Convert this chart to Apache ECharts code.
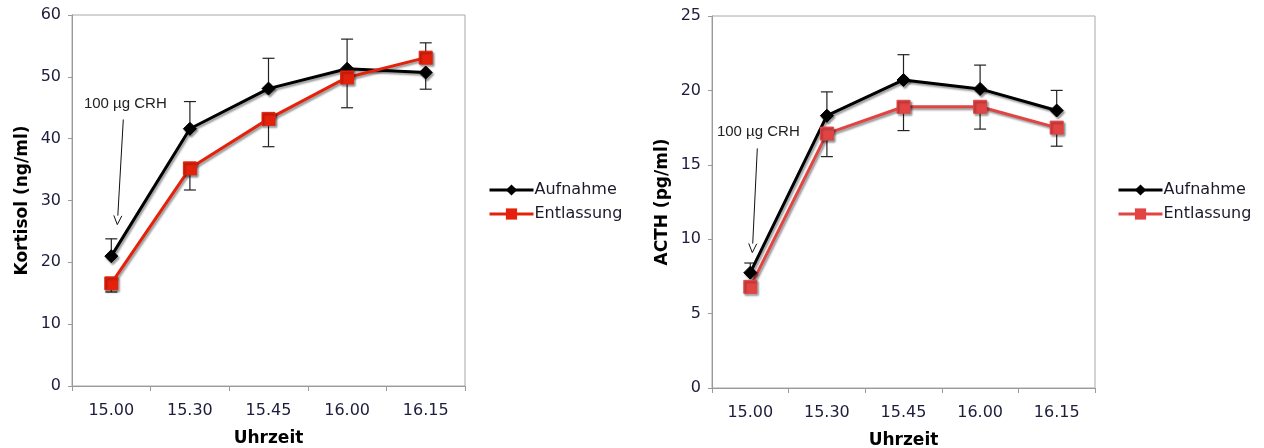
<!DOCTYPE html>
<html>
<head>
<meta charset="utf-8">
<script src="https://cdn.jsdelivr.net/npm/echarts@6/dist/echarts.min.js"></script>
<style>html,body{margin:0;padding:0;background:#fff}#c{width:1264px;height:448px}</style>
</head>
<body>
<div id="c"></div>
<script>
// ---- data ----
const categories = ['15.00', '15.30', '15.45', '16.00', '16.15'];
const seriesNames = ['Aufnahme', 'Entlassung'];

const kortisolAufnahme = [21.0, 41.6, 48.1, 51.3, 50.7];
const kortisolAufnahmeErrUp = [2.8, 4.4, 4.9, 4.8, 0];
const kortisolAufnahmeErrDown = [0, 0, 0, 0, 2.7];
const kortisolEntlassung = [16.6, 35.2, 43.2, 49.9, 53.1];
const kortisolEntlassungErrUp = [0, 0, 0, 0, 2.4];
const kortisolEntlassungErrDown = [1.4, 3.5, 4.5, 4.9, 0];

const acthAufnahme = [7.75, 18.3, 20.7, 20.1, 18.65];
const acthAufnahmeErrUp = [0.65, 1.6, 1.7, 1.6, 1.35];
const acthAufnahmeErrDown = [0, 0, 0, 0, 0];
const acthEntlassung = [6.8, 17.1, 18.9, 18.9, 17.5];
const acthEntlassungErrUp = [0, 0, 0, 0, 0];
const acthEntlassungErrDown = [0, 1.55, 1.6, 1.5, 1.25];

const kortisolTicks = [0, 10, 20, 30, 40, 50, 60];
const acthTicks = [0, 5, 10, 15, 20, 25];
const annotationText = '100 µg CRH';

// ---- styling ----
const FONT = 'DejaVu Sans';
const TICK_COLOR = '#1c1c3c';
const BLACK = '#000000';
const RED_LEFT = '#e4220c';
const RED_RIGHT = '#e24444';

function errData(vals, up, down) {
  return vals.map((v, i) => [i, v - down[i], v + up[i]]);
}

function errSeries(gridIdx, vals, up, down) {
  return {
    type: 'custom',
    xAxisIndex: gridIdx, yAxisIndex: gridIdx,
    data: errData(vals, up, down),
    z: 1,
    silent: true,
    renderItem: function (params, api) {
      const lo = api.value(1), hi = api.value(2);
      if (hi - lo < 1e-9) return null;
      const p1 = api.coord([api.value(0), lo]);
      const p2 = api.coord([api.value(0), hi]);
      const w = 6;
      const st = { stroke: '#222', lineWidth: 1.2 };
      return {
        type: 'group',
        children: [
          { type: 'line', shape: { x1: p1[0], y1: p1[1], x2: p2[0], y2: p2[1] }, style: st },
          { type: 'line', shape: { x1: p1[0] - w, y1: p1[1], x2: p1[0] + w, y2: p1[1] }, style: st },
          { type: 'line', shape: { x1: p2[0] - w, y1: p2[1], x2: p2[0] + w, y2: p2[1] }, style: st }
        ]
      };
    }
  };
}

function lineSeries(gridIdx, name, vals, color, symbol, size) {
  return {
    type: 'line', name: name,
    xAxisIndex: gridIdx, yAxisIndex: gridIdx,
    data: vals,
    symbol: symbol, symbolSize: size,
    z: 3,
    lineStyle: { color: color, width: 3, shadowColor: 'rgba(0,0,0,0.4)', shadowBlur: 2, shadowOffsetX: 1.5, shadowOffsetY: 2 },
    itemStyle: { color: color, borderColor: color, shadowColor: 'rgba(0,0,0,0.4)', shadowBlur: 2, shadowOffsetX: 1.5, shadowOffsetY: 2 },
    emphasis: { disabled: true }
  };
}

function xAxis(gridIdx) {
  return {
    type: 'category', gridIndex: gridIdx, data: categories,
    boundaryGap: true,
    name: 'Uhrzeit', nameLocation: 'middle', nameGap: 44,
    nameTextStyle: { fontFamily: FONT, fontWeight: 'bold', fontSize: 17, color: '#000' },
    axisLine: { lineStyle: { color: '#9a9a9a', width: 1 } },
    axisTick: { show: true, alignWithLabel: false, length: 5, lineStyle: { color: '#9a9a9a' } },
    axisLabel: { fontFamily: FONT, fontSize: 16, color: TICK_COLOR, margin: 17 },
    splitLine: { show: false }
  };
}

function yAxis(gridIdx, name, ticks, gap) {
  return {
    type: 'value', gridIndex: gridIdx,
    min: ticks[0], max: ticks[ticks.length - 1], interval: ticks[1] - ticks[0],
    name: name, nameLocation: 'middle', nameGap: gap, nameRotate: 90,
    nameTextStyle: { fontFamily: FONT, fontWeight: 'bold', fontSize: 17, color: '#000' },
    axisLine: { show: true, lineStyle: { color: '#9a9a9a', width: 1 } },
    axisTick: { show: true, length: 4, lineStyle: { color: '#9a9a9a' } },
    axisLabel: { fontFamily: FONT, fontSize: 16, color: TICK_COLOR, margin: 11 },
    splitLine: { show: false }
  };
}

function legend(left, redColor) {
  return {
    orient: 'vertical', left: left, top: 177,
    itemWidth: 44, itemHeight: 14, itemGap: 8,
    textStyle: { fontFamily: FONT, fontSize: 16, color: '#1a1a2a', padding: [0, 0, 0, -4] },
    selectedMode: false,
    data: [
      { name: seriesNames[0], itemStyle: { color: BLACK, borderColor: BLACK }, lineStyle: { color: BLACK, width: 3 } },
      { name: seriesNames[1], itemStyle: { color: redColor, borderColor: redColor }, lineStyle: { color: redColor, width: 3 } }
    ]
  };
}

const chart = echarts.init(document.getElementById('c'), null, { renderer: 'canvas' });
const option = {
  animation: false,
  backgroundColor: '#fff',
  grid: [
    { left: 72, top: 15, width: 393, height: 371, show: true, borderColor: '#a8a8a8', borderWidth: 1, containLabel: false, outerBoundsMode: 'none' },
    { left: 712, top: 16, width: 383, height: 372, show: true, borderColor: '#a8a8a8', borderWidth: 1, containLabel: false, outerBoundsMode: 'none' }
  ],
  xAxis: [xAxis(0), xAxis(1)],
  yAxis: [yAxis(0, 'Kortisol (ng/ml)', kortisolTicks, 41), yAxis(1, 'ACTH (pg/ml)', acthTicks, 41)],
  legend: [legend(483, RED_LEFT), legend(1112, RED_RIGHT)],
  series: [
    errSeries(0, kortisolAufnahme, kortisolAufnahmeErrUp, kortisolAufnahmeErrDown),
    errSeries(0, kortisolEntlassung, kortisolEntlassungErrUp, kortisolEntlassungErrDown),
    lineSeries(0, seriesNames[0], kortisolAufnahme, BLACK, 'diamond', 13),
    lineSeries(0, seriesNames[1], kortisolEntlassung, RED_LEFT, 'rect', 13),
    errSeries(1, acthAufnahme, acthAufnahmeErrUp, acthAufnahmeErrDown),
    errSeries(1, acthEntlassung, acthEntlassungErrUp, acthEntlassungErrDown),
    lineSeries(1, seriesNames[0], acthAufnahme, BLACK, 'diamond', 13),
    lineSeries(1, seriesNames[1], acthEntlassung, RED_RIGHT, 'rect', 13)
  ]
};
chart.setOption(option);

// annotation: label + arrow pointing at the first time point
function annot(gridIdx, yText, yFrom, yTo, dxText, dxFrom, dxTo) {
  const base = chart.convertToPixel({ gridIndex: gridIdx }, [0, yText]);
  const from = chart.convertToPixel({ gridIndex: gridIdx }, [0, yFrom]);
  const to = chart.convertToPixel({ gridIndex: gridIdx }, [0, yTo]);
  const x1 = from[0] + dxFrom, y1 = from[1];
  const x2 = to[0] + dxTo, y2 = to[1];
  const ang = Math.atan2(y2 - y1, x2 - x1);
  const L = 9, W = 4;
  const bx = x2 - L * Math.cos(ang), by = y2 - L * Math.sin(ang);
  const nx = -Math.sin(ang), ny = Math.cos(ang);
  return [
    { type: 'text', x: base[0] + dxText, y: base[1],
      style: { text: annotationText, font: '15px "Liberation Sans"', fill: '#222', align: 'center', verticalAlign: 'middle' } },
    { type: 'line', shape: { x1: x1, y1: y1, x2: bx, y2: by }, style: { stroke: '#111', lineWidth: 1 } },
    { type: 'polyline', shape: { points: [[bx + nx * W, by + ny * W], [x2, y2], [bx - nx * W, by - ny * W]] },
      style: { stroke: '#111', lineWidth: 1, fill: null } }
  ];
}
chart.setOption({
  graphic: annot(0, 45.6, 43.1, 26.1, 14, 12, 6).concat(annot(1, 17.2, 16.1, 9.1, 8, 7, 2))
});
</script>
</body>
</html>
